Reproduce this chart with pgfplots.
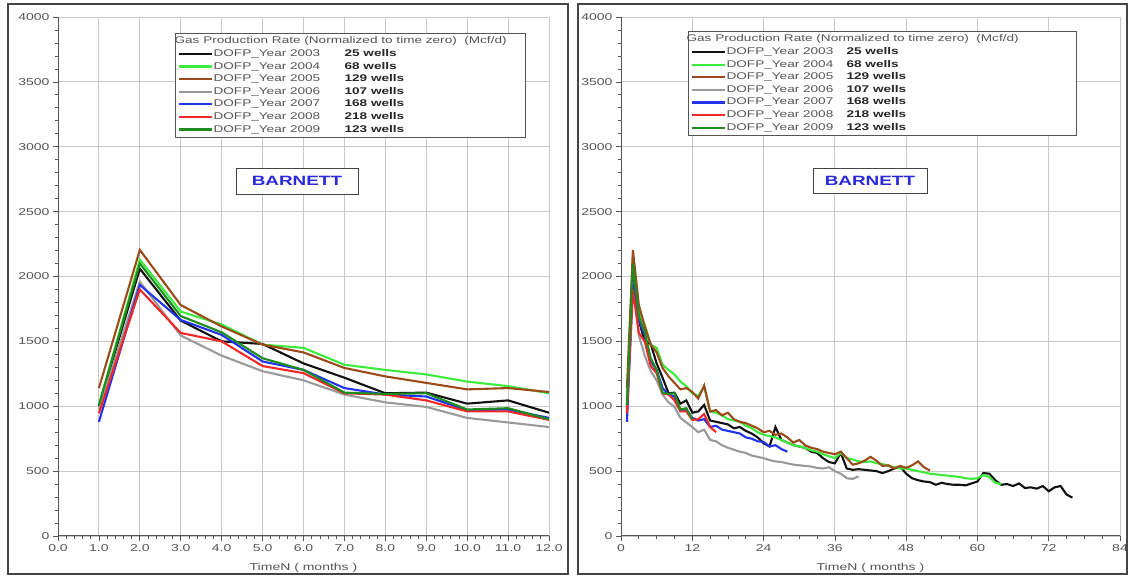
\documentclass[border=0pt]{standalone}
\usepackage{fontspec}
\setmainfont[FakeStretch=1.4]{Liberation Sans}
\usepackage{pgfplots}
\usepackage{pgfplotstable}
\pgfplotsset{compat=1.18}

\definecolor{c03}{HTML}{111111}
\definecolor{c04}{HTML}{3CEB3C}
\definecolor{c05}{HTML}{9C4A1A}
\definecolor{c06}{HTML}{9A9A9A}
\definecolor{c07}{HTML}{2233EE}
\definecolor{c08}{HTML}{F02828}
\definecolor{c09}{HTML}{1E8C1E}
\definecolor{tickgray}{HTML}{555555}
\definecolor{gridgray}{HTML}{C8C8C8}
\definecolor{framegray}{HTML}{444444}
\definecolor{barnett}{HTML}{2A2ADC}

% Year 2003
\pgfplotstableread{
m v
1 1000
2 2060
3 1660
4 1500
5 1480
6 1330
7 1220
8 1100
9 1105
10 1020
11 1045
12 950
13 960
14 1010
15 890
16 880
17 870
18 860
19 830
20 840
21 810
22 790
23 760
24 715
25 690
26 840
27 740
28 720
29 700
30 690
31 680
32 650
33 640
34 600
35 570
36 560
37 640
38 520
39 510
40 515
41 510
42 505
43 500
44 485
45 500
46 520
47 535
48 480
49 445
50 430
51 420
52 415
53 395
54 410
55 400
56 395
57 395
58 390
59 405
60 420
61 485
62 480
63 430
64 395
65 400
66 385
67 405
68 370
69 375
70 365
71 385
72 345
73 375
74 385
75 320
76 295
}\tblA
% Year 2004
\pgfplotstableread{
m v
1 1010
2 2130
3 1730
4 1630
5 1475
6 1450
7 1320
8 1280
9 1245
10 1190
11 1155
12 1100
13 1080
14 1150
15 960
16 950
17 930
18 900
19 890
20 880
21 850
22 830
23 800
24 780
25 770
26 760
27 740
28 720
29 700
30 690
31 680
32 660
33 650
34 630
35 615
36 600
37 640
38 600
39 590
40 575
41 570
42 575
43 560
44 555
45 540
46 530
47 520
48 520
49 510
50 500
51 490
52 480
53 475
54 470
55 465
56 460
57 455
58 445
59 440
60 445
61 470
62 455
63 410
64 400
}\tblB
% Year 2005
\pgfplotstableread{
m v
1 1140
2 2205
3 1780
4 1615
5 1475
6 1415
7 1295
8 1230
9 1180
10 1130
11 1140
12 1110
13 1060
14 1160
15 960
16 970
17 930
18 950
19 900
20 880
21 870
22 850
23 830
24 800
25 810
26 780
27 790
28 760
29 720
30 740
31 700
32 680
33 670
34 650
35 640
36 630
37 650
38 600
39 550
40 560
41 580
42 610
43 580
44 540
45 545
46 520
47 540
48 525
49 545
50 575
51 530
52 505
}\tblC
% Year 2006
\pgfplotstableread{
m v
1 975
2 1960
3 1545
4 1390
5 1270
6 1200
7 1090
8 1030
9 995
10 910
11 875
12 840
13 800
14 820
15 740
16 730
17 700
18 680
19 665
20 650
21 640
22 620
23 610
24 600
25 585
26 575
27 570
28 560
29 550
30 545
31 540
32 535
33 525
34 520
35 530
36 500
37 480
38 445
39 440
40 460
}\tblD
% Year 2007
\pgfplotstableread{
m v
1 880
2 1935
3 1665
4 1550
5 1345
6 1280
7 1140
8 1090
9 1075
10 970
11 975
12 910
13 890
14 900
15 840
16 850
17 820
18 810
19 800
20 790
21 760
22 750
23 730
24 725
25 690
26 700
27 670
28 650
}\tblE
% Year 2008
\pgfplotstableread{
m v
1 945
2 1900
3 1565
4 1500
5 1310
6 1255
7 1100
8 1090
9 1045
10 960
11 960
12 895
13 900
14 940
15 840
16 800
}\tblF
% Year 2009
\pgfplotstableread{
m v
1 1010
2 2100
3 1695
4 1570
5 1370
6 1280
7 1105
8 1095
9 1100
10 975
11 985
12 900
}\tblG

\pgfplotsset{
  panel/.style={
    scale only axis,
    height=519pt,
    ymin=0, ymax=4000,
    ytick={0,500,...,4000},
    minor y tick num=4,
    axis x line*=bottom,
    axis y line*=left,
    axis line style={tickgray, line width=1pt},
    grid=major,
    grid style={gridgray, line width=0.9pt},
    tick align=outside,
    major tick length=5pt,
    minor tick length=3pt,
    tick style={tickgray, line width=0.7pt},
    every tick/.style={tickgray, line width=0.7pt},
    /pgf/number format/assume math mode=true,
    ticklabel style={font=\fontsize{10}{11}\selectfont, text=tickgray},
    yticklabel style={/pgf/number format/1000 sep={}},
    xlabel={TimeN ( months )},
    xlabel style={font=\fontsize{10}{11}\selectfont, text=tickgray, yshift=-5pt},
    legend cell align=left,
    legend image code/.code={\draw[##1, line width=2.2pt] (0pt,0pt) -- (33pt,0pt);},
    legend style={anchor=north west, draw=tickgray, line width=0.8pt, fill=white,
      font=\fontsize{9.7}{11}\selectfont, text=tickgray, inner sep=2pt, row sep=0.6pt,
      nodes={inner sep=1pt, text height=7.5pt, text depth=2.5pt}},
  },
  ser/.style={line width=2.1pt, #1},
}

\newcommand{\wl}[1]{\textcolor{black!85}{\bfseries #1}}

\begin{document}
\begin{tikzpicture}
\useasboundingbox (0pt,0pt) rectangle (1130pt,577pt);
\fill[white] (0pt,0pt) rectangle (1130pt,577pt);
\draw[framegray, line width=1.6pt] (8pt,3pt) rectangle (568pt,573pt);
\draw[framegray, line width=1.6pt] (578pt,3pt) rectangle (1127pt,573pt);

% ---------------- left panel ----------------
\begin{axis}[panel,
  at={(58pt,41pt)}, anchor=south west,
  width=491pt,
  xmin=0, xmax=12,
  xtick={0,1,...,12},
  minor x tick num=4,
  restrict x to domain=0:12,
  xticklabel style={/pgf/number format/.cd, fixed, fixed zerofill, precision=1},
  legend style={at={(0.2383,0.9692)}},
]
\addlegendimage{empty legend}
\addlegendentry{\makebox[309pt][l]{\hspace*{-39pt}\fontsize{9.7}{11}\selectfont Gas Production Rate (Normalized to time zero)\ \ (Mcf/d)}}
\addplot[ser=c03] table[x=m,y=v] {\tblA};
\addlegendentry{\makebox[131pt][l]{DOFP\_Year 2003}\wl{25 wells}}
\addplot[ser=c04] table[x=m,y=v] {\tblB};
\addlegendentry{\makebox[131pt][l]{DOFP\_Year 2004}\wl{68 wells}}
\addplot[ser=c05] table[x=m,y=v] {\tblC};
\addlegendentry{\makebox[131pt][l]{DOFP\_Year 2005}\wl{129 wells}}
\addplot[ser=c06] table[x=m,y=v] {\tblD};
\addlegendentry{\makebox[131pt][l]{DOFP\_Year 2006}\wl{107 wells}}
\addplot[ser=c07] table[x=m,y=v] {\tblE};
\addlegendentry{\makebox[131pt][l]{DOFP\_Year 2007}\wl{168 wells}}
\addplot[ser=c08] table[x=m,y=v] {\tblF};
\addlegendentry{\makebox[131pt][l]{DOFP\_Year 2008}\wl{218 wells}}
\addplot[ser=c09] table[x=m,y=v] {\tblG};
\addlegendentry{\makebox[131pt][l]{DOFP\_Year 2009}\wl{123 wells}}
\node[draw=framegray, line width=0.8pt, fill=white, text=barnett,
  font=\bfseries\fontsize{13.5}{14}\selectfont,
  minimum width=122pt, minimum height=26pt, inner sep=0pt]
  at (axis cs:5.84,2736) {BARNETT};
\end{axis}

% ---------------- right panel ----------------
\begin{axis}[panel,
  at={(621pt,41pt)}, anchor=south west,
  width=499pt,
  xmin=0, xmax=84,
  xtick={0,12,...,84},
  minor x tick num=3,
  legend style={at={(0.1343,0.973)}},
]
\addlegendimage{empty legend}
\addlegendentry{\makebox[347pt][l]{\hspace*{-40pt}\fontsize{9.7}{11}\selectfont Gas Production Rate (Normalized to time zero)\ \ (Mcf/d)}}
\addplot[ser=c03] table[x=m,y=v] {\tblA};
\addlegendentry{\makebox[120pt][l]{DOFP\_Year 2003}\wl{25 wells}}
\addplot[ser=c04] table[x=m,y=v] {\tblB};
\addlegendentry{\makebox[120pt][l]{DOFP\_Year 2004}\wl{68 wells}}
\addplot[ser=c05] table[x=m,y=v] {\tblC};
\addlegendentry{\makebox[120pt][l]{DOFP\_Year 2005}\wl{129 wells}}
\addplot[ser=c06] table[x=m,y=v] {\tblD};
\addlegendentry{\makebox[120pt][l]{DOFP\_Year 2006}\wl{107 wells}}
\addplot[ser=c07] table[x=m,y=v] {\tblE};
\addlegendentry{\makebox[120pt][l]{DOFP\_Year 2007}\wl{168 wells}}
\addplot[ser=c08] table[x=m,y=v] {\tblF};
\addlegendentry{\makebox[120pt][l]{DOFP\_Year 2008}\wl{218 wells}}
\addplot[ser=c09] table[x=m,y=v] {\tblG};
\addlegendentry{\makebox[120pt][l]{DOFP\_Year 2009}\wl{123 wells}}
\node[draw=framegray, line width=0.8pt, fill=white, text=barnett,
  font=\bfseries\fontsize{13.5}{14}\selectfont,
  minimum width=114pt, minimum height=25pt, inner sep=0pt]
  at (axis cs:41.9,2740) {BARNETT};
\end{axis}
\end{tikzpicture}
\end{document}
